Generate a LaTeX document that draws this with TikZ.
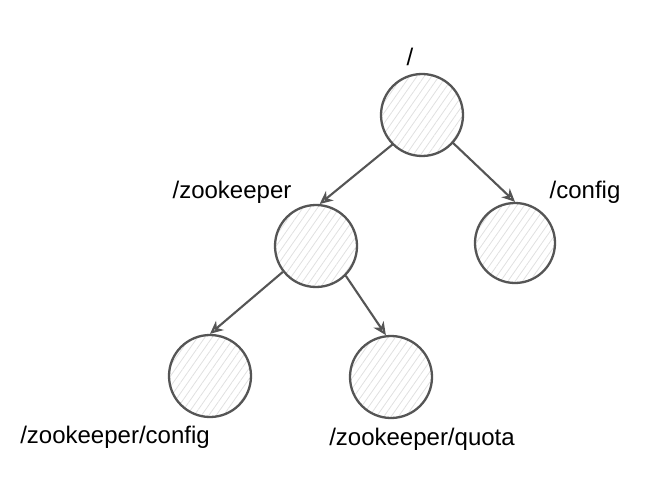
\documentclass[tikz,border=0pt]{standalone}
\usepackage{fontspec}
\setmainfont{Liberation Sans}
\usetikzlibrary{arrows.meta,patterns.meta}
\definecolor{ink}{HTML}{555555}
\begin{document}
\begin{tikzpicture}[x=1pt,y=-1pt,
  nd/.style={circle, draw=ink, line width=2.3pt, minimum size=82pt, inner sep=0pt,
    pattern={Lines[angle=55,distance=6pt,line width=0.8pt]}, pattern color=black!12},
  lbl/.style={font=\fontsize{24}{28}\selectfont, text=black, inner sep=0pt},
  edge/.style={draw=ink, line width=2.1pt, -{Stealth[open, length=13pt, width=12pt, inset=4pt]}}]
\useasboundingbox (0,0) rectangle (660,494);
\node[nd] (root) at (422,115) {};
\node[nd] (zk) at (316,246) {};
\node[nd, minimum size=80pt] (cfg) at (515,243) {};
\node[nd] (zkc) at (210,376) {};
\node[nd] (zkq) at (391,377) {};
\node[lbl] (lroot) at (410,57) {/};
\node[lbl] (lzk) at (232,192) {/zookeeper};
\node[lbl] (lcfg) at (585,192) {/config};
\node[lbl] (lzkc) at (115,437) {/zookeeper/config};
\node[lbl] (lzkq) at (422,439) {/zookeeper/quota};
\draw[edge] (root.225) -- (zk.85);
\draw[edge] (root.-42) -- (cfg.north);
\draw[edge] (zk.218) -- (zkc.north);
\draw[edge] (zk.-45) -- (zkq.97);
\end{tikzpicture}
\end{document}
